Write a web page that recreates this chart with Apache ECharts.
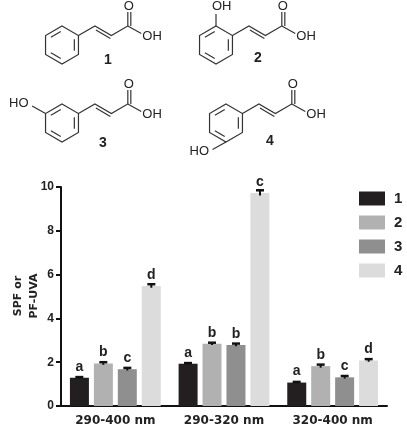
<!DOCTYPE html>
<html>
<head>
<meta charset="utf-8">
<script src="https://cdn.jsdelivr.net/npm/echarts@6/dist/echarts.min.js"></script>
<style>html,body{margin:0;padding:0;background:#fff}#main{width:407px;height:432px}</style>
</head>
<body>
<div id="main"></div>
<script>
var categories = ['290-400 nm', '290-320 nm', '320-400 nm'];
var names = ['1', '2', '3', '4'];
var values = [
  [1.29, 1.93, 1.07],
  [1.94, 2.84, 1.82],
  [1.68, 2.79, 1.31],
  [5.48, 9.73, 2.08]
];
var errors = [
  [0.03, 0.03, 0.03],
  [0.06, 0.05, 0.07],
  [0.06, 0.06, 0.06],
  [0.08, 0.12, 0.06]
];
var letters = [
  ['a', 'a', 'a'],
  ['b', 'b', 'b'],
  ['c', 'b', 'c'],
  ['d', 'c', 'd']
];
var colors = ['#231f20', '#b1b1b1', '#8f8f8f', '#dcdcdc'];

var chart = echarts.init(document.getElementById('main'));

// simple skeletal drawing for the cinnamic acids
function molecule(cx, cy, sub, label, lx, ly) {
  var r = 19, dx = r * Math.cos(Math.PI / 6), dy = r / 2;
  var pts = [];
  for (var k = 0; k < 6; k++) {
    var a = -Math.PI / 2 + k * Math.PI / 3;
    pts.push([cx + r * Math.cos(a), cy + r * Math.sin(a)]);
  }
  var st = { stroke: '#333', lineWidth: 1.2, fill: null };
  var els = [{ type: 'polygon', shape: { points: pts }, style: st }];
  [1, 3, 5].forEach(function (k) {
    var p = pts[k], q = pts[(k + 1) % 6];
    var f = function (v) { return [cx + (v[0] - cx) * 0.75, cy + (v[1] - cy) * 0.75]; };
    var p2 = f(p), q2 = f(q);
    var m = function (u, v, t) { return [u[0] + (v[0] - u[0]) * t, u[1] + (v[1] - u[1]) * t]; };
    els.push({ type: 'line', shape: { x1: m(p2, q2, 0.1)[0], y1: m(p2, q2, 0.1)[1], x2: m(p2, q2, 0.9)[0], y2: m(p2, q2, 0.9)[1] }, style: st });
  });
  var v = pts[1];
  var a1 = [v[0] + dx, v[1] - dy], b1 = [a1[0] + dx, a1[1] + dy], c1 = [b1[0] + dx, b1[1] - dy];
  els.push({ type: 'polyline', shape: { points: [v, a1, b1, c1, [c1[0], c1[1] - r + 5]] }, style: st });
  els.push({ type: 'line', shape: { x1: a1[0] + 1, y1: a1[1] + 4, x2: b1[0] - 1, y2: b1[1] + 3 }, style: st });
  els.push({ type: 'line', shape: { x1: c1[0] + 3, y1: c1[1], x2: c1[0] + 3, y2: c1[1] - r + 5 }, style: st });
  els.push({ type: 'line', shape: { x1: c1[0], y1: c1[1], x2: c1[0] + dx - 3, y2: c1[1] + dy - 2 }, style: st });
  var tx = { fill: '#222', fontSize: 13, fontFamily: 'Liberation Sans' };
  els.push({ type: 'text', x: c1[0] - 4, y: c1[1] - r - 7, style: Object.assign({ text: 'O' }, tx) });
  els.push({ type: 'text', x: c1[0] + dx - 2, y: c1[1] + dy - 6, style: Object.assign({ text: 'OH' }, tx) });
  if (sub === 'o') {
    els.push({ type: 'line', shape: { x1: pts[0][0], y1: pts[0][1], x2: pts[0][0], y2: pts[0][1] - 12 }, style: st });
    els.push({ type: 'text', x: pts[0][0] - 4, y: pts[0][1] - 26, style: Object.assign({ text: 'OH' }, tx) });
  } else if (sub === 'm') {
    var w = pts[5];
    els.push({ type: 'line', shape: { x1: w[0], y1: w[1], x2: w[0] - dx + 3, y2: w[1] - dy + 2 }, style: st });
    els.push({ type: 'text', x: w[0] - dx - 20, y: w[1] - dy - 7, style: Object.assign({ text: 'HO' }, tx) });
  } else if (sub === 'p') {
    var b = pts[3];
    els.push({ type: 'line', shape: { x1: b[0], y1: b[1], x2: b[0] - dx + 3, y2: b[1] + dy - 2 }, style: st });
    els.push({ type: 'text', x: b[0] - dx - 20, y: b[1] + dy - 7, style: Object.assign({ text: 'HO' }, tx) });
  }
  els.push({ type: 'text', x: lx, y: ly, style: { text: label, fill: '#222', fontSize: 14, fontWeight: 'bold', fontFamily: 'Liberation Sans' } });
  return { type: 'group', children: els };
}

var series = names.map(function (n, i) {
  return {
    name: n,
    type: 'bar',
    data: values[i],
    barWidth: 19,
    barGap: '26%',
    itemStyle: { color: colors[i] },
    label: {
      show: true, position: 'top', distance: 4,
      fontWeight: 'bold', fontSize: 14, color: '#222', fontFamily: 'Liberation Sans',
      formatter: function (p) { return letters[i][p.dataIndex]; }
    }
  };
});

names.forEach(function (n, i) {
  series.push({
    type: 'custom',
    name: 'err' + n,
    z: 5,
    data: values[i].map(function (v, j) { return [j, v - errors[i][j], v + errors[i][j]]; }),
    renderItem: function (params, api) {
      var off = (i - 1.5) * 24;
      var lo = api.coord([api.value(0), api.value(1)]);
      var hi = api.coord([api.value(0), api.value(2)]);
      var x = lo[0] + off;
      return {
        type: 'group',
        children: [
          { type: 'line', shape: { x1: x, y1: lo[1], x2: x, y2: hi[1] }, style: { stroke: '#111', lineWidth: 2 } },
          { type: 'line', shape: { x1: x - 4, y1: hi[1], x2: x + 4, y2: hi[1] }, style: { stroke: '#111', lineWidth: 2.5 } }
        ]
      };
    }
  });
});

chart.setOption({
  animation: false,
  grid: { left: 61, right: 20, top: 187, bottom: 26 },
  legend: {
    data: names,
    orient: 'vertical',
    left: 354, top: 186,
    itemWidth: 26, itemHeight: 14, itemGap: 9,
    icon: 'rect',
    textStyle: { fontSize: 15, fontWeight: 'bold', color: '#222', padding: [0, 0, 0, 4], fontFamily: 'Liberation Sans' }
  },
  xAxis: {
    type: 'category',
    data: categories,
    axisLine: { lineStyle: { color: '#111', width: 2 } },
    axisTick: { alignWithLabel: true, length: 5, lineStyle: { width: 2 } },
    axisLabel: { fontSize: 12, fontWeight: 'bold', color: '#222', margin: 9, fontFamily: 'DejaVu Sans' }
  },
  yAxis: {
    type: 'value',
    min: 0, max: 10, interval: 2,
    splitLine: { show: false },
    axisLine: { show: true, lineStyle: { color: '#111', width: 2 } },
    axisTick: { show: true, length: 5, lineStyle: { width: 2 } },
    axisLabel: { fontSize: 12, fontWeight: 'bold', color: '#222', margin: 7, fontFamily: 'Liberation Sans' }
  },
  graphic: [
    molecule(62, 45, null, '1', 104, 53),
    molecule(216, 45, 'o', '2', 254, 51),
    molecule(62, 123, 'm', '3', 99, 136),
    molecule(226, 123, 'p', '4', 266, 134),
    {
      type: 'text', x: 26, y: 296, rotation: Math.PI / 2,
      style: { text: 'SPF or\nPF-UVA', fill: '#222', fontSize: 11, fontWeight: 'bold', align: 'center', verticalAlign: 'middle', lineHeight: 16, fontFamily: 'DejaVu Sans' }
    }
  ],
  series: series
});
</script>
</body>
</html>
